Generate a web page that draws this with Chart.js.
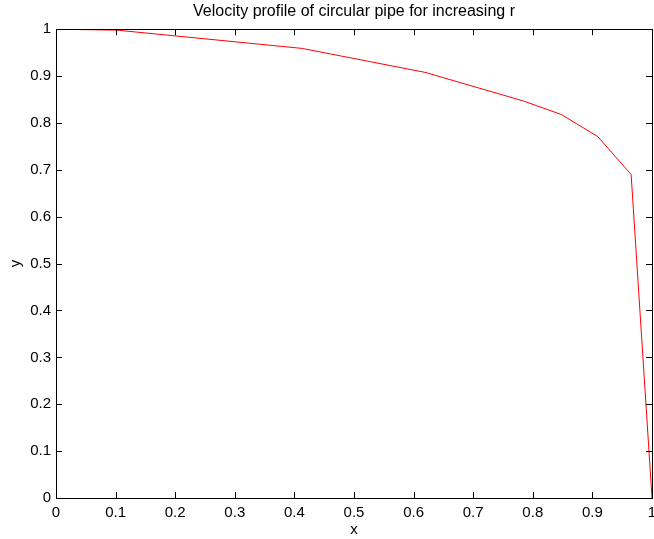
<!DOCTYPE html>
<html>
<head>
<meta charset="utf-8">
<script src="https://cdn.jsdelivr.net/npm/chart.js@4/dist/chart.umd.min.js"></script>
<style>
  html, body { margin: 0; padding: 0; background: #fff; }
  #wrap { width: 654px; height: 539px; }
</style>
</head>
<body>
<div id="wrap"><canvas id="pipeChart" width="654" height="539"></canvas></div>
<script>
// values
const radius = [0, 0.102, 0.413, 0.619, 0.784, 0.848, 0.909, 0.965, 1];
const velocity = [1, 0.998, 0.959, 0.908, 0.847, 0.818, 0.771, 0.690, 0];
const xTicks = [0, 0.1, 0.2, 0.3, 0.4, 0.5, 0.6, 0.7, 0.8, 0.9, 1];
const yTicks = [0, 0.1, 0.2, 0.3, 0.4, 0.5, 0.6, 0.7, 0.8, 0.9, 1];

const points = radius.map((r, i) => ({ x: r, y: velocity[i] }));
const font = "'Liberation Sans', Arial, sans-serif";

// MATLAB style box with inward ticks on all four sides
const boxTicks = {
  id: "boxTicks",
  afterDatasetsDraw(chart) {
    const { ctx, chartArea: a, scales } = chart;
    const len = 6;
    ctx.save();
    ctx.strokeStyle = "#000";
    ctx.lineWidth = 1;
    ctx.beginPath();
    xTicks.forEach(v => {
      const px = Math.round(scales.x.getPixelForValue(v)) + 0.5;
      ctx.moveTo(px, a.bottom); ctx.lineTo(px, a.bottom - len);
      ctx.moveTo(px, a.top); ctx.lineTo(px, a.top + len);
    });
    yTicks.forEach(v => {
      const py = Math.round(scales.y.getPixelForValue(v)) + 0.5;
      ctx.moveTo(a.left, py); ctx.lineTo(a.left + len, py);
      ctx.moveTo(a.right, py); ctx.lineTo(a.right - len, py);
    });
    ctx.stroke();
    ctx.strokeRect(Math.round(a.left) + 0.5, Math.round(a.top) + 0.5,
      Math.round(a.right - a.left), Math.round(a.bottom - a.top));
    ctx.restore();
  }
};

new Chart(document.getElementById("pipeChart"), {
  type: "line",
  data: {
    datasets: [{
      data: points,
      borderColor: "#ff0000",
      borderWidth: 1,
      pointRadius: 0,
      fill: false,
      tension: 0
    }]
  },
  options: {
    responsive: false,
    animation: false,
    layout: { padding: { left: 0, right: 2, top: 0, bottom: 0 } },
    plugins: {
      legend: { display: false },
      tooltip: { enabled: false },
      title: {
        display: true,
        fullSize: false,
        text: "Velocity profile of circular pipe for increasing r",
        color: "#000",
        font: { family: font, size: 16, weight: "normal" },
        padding: { top: 2, bottom: 8 }
      }
    },
    scales: {
      x: {
        type: "linear",
        min: 0, max: 1,
        afterBuildTicks: s => { s.ticks = xTicks.map(v => ({ value: v })); },
        afterFit: s => { s.height = 41; s.paddingLeft = 0; s.paddingRight = 0; },
        grid: { display: false, drawTicks: false },
        border: { display: false },
        ticks: {
          color: "#000",
          font: { family: font, size: 15 },
          padding: 6,
          maxRotation: 0,
          callback: v => String(v)
        },
        title: {
          display: true, text: "x", color: "#000",
          font: { family: font, size: 15 },
          padding: { top: 0, bottom: 0 }
        }
      },
      y: {
        type: "linear",
        min: 0, max: 1,
        afterBuildTicks: s => { s.ticks = yTicks.map(v => ({ value: v })); },
        afterFit: s => { s.width = 56; s.paddingTop = 0; s.paddingBottom = 0; },
        grid: { display: false, drawTicks: false },
        border: { display: false },
        ticks: {
          color: "#000",
          font: { family: font, size: 15 },
          padding: 5,
          callback: v => String(v)
        },
        title: {
          display: true, text: "y", color: "#000",
          font: { family: font, size: 15 },
          padding: { top: 7, bottom: 0 }
        }
      }
    }
  },
  plugins: [boxTicks]
});
</script>
</body>
</html>
